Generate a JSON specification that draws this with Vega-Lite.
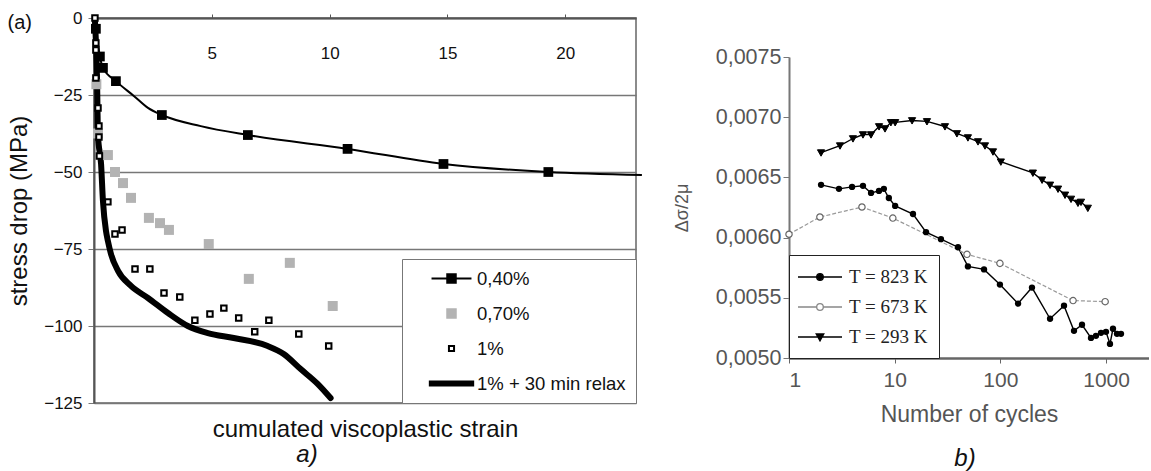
{
  "$schema": "https://vega.github.io/schema/vega-lite/v6.json",
  "background": "white",
  "padding": {"left": 6, "top": 8, "right": 0, "bottom": 0},
  "config": {"font": "Liberation Sans", "view": {"stroke": null}, "axis": {"grid": false}},
  "spacing": 26,
  "resolve": {"scale": {"shape": "independent", "color": "independent", "stroke": "independent"}, "legend": {"shape": "independent", "color": "independent", "stroke": "independent"}},
  "datasets": {
    "legA": [{"s": "0,40%"}, {"s": "0,70%"}, {"s": "1%"}, {"s": "1% + 30 min relax"}],
    "legB": [{"s": "T = 823 K"}, {"s": "T = 673 K"}, {"s": "T = 293 K"}],
    "s040": [
      {"x": 0.04, "y": -1, "m": 0},
      {"x": 0.08, "y": -3.5, "m": 1},
      {"x": 0.25, "y": -12.5, "m": 1},
      {"x": 0.38, "y": -16.2, "m": 1},
      {"x": 0.93, "y": -20.5, "m": 1},
      {"x": 1.69, "y": -25.3, "m": 0},
      {"x": 2.29, "y": -29.2, "m": 0},
      {"x": 2.88, "y": -31.5, "m": 1},
      {"x": 4.53, "y": -35.1, "m": 0},
      {"x": 6.53, "y": -38.0, "m": 1},
      {"x": 10.76, "y": -42.5, "m": 1},
      {"x": 14.83, "y": -47.4, "m": 1},
      {"x": 19.28, "y": -50.0, "m": 1},
      {"x": 23.25, "y": -51.0, "m": 0}
    ],
    "s070": [
      {"x": 0.1, "y": -21.5}, {"x": 0.17, "y": -37.5},
      {"x": 0.59, "y": -44.5}, {"x": 0.89, "y": -50}, {"x": 1.23, "y": -53.6},
      {"x": 1.57, "y": -58.4}, {"x": 2.33, "y": -64.9}, {"x": 2.8, "y": -66.6},
      {"x": 3.18, "y": -68.8}, {"x": 4.87, "y": -73.4}, {"x": 6.57, "y": -84.7},
      {"x": 8.31, "y": -79.5}, {"x": 10.13, "y": -93.5}
    ],
    "s1": [
      {"x": 0.04, "y": 0}, {"x": 0.08, "y": -8.1}, {"x": 0.08, "y": -10.4},
      {"x": 0.08, "y": -19.5}, {"x": 0.17, "y": -29.2}, {"x": 0.21, "y": -35.1},
      {"x": 0.21, "y": -38.6}, {"x": 0.23, "y": -44.8}, {"x": 0.59, "y": -59.7},
      {"x": 0.89, "y": -70.1}, {"x": 1.19, "y": -68.8}, {"x": 1.74, "y": -81.5},
      {"x": 2.37, "y": -81.5}, {"x": 2.97, "y": -89.3}, {"x": 3.64, "y": -90.6},
      {"x": 4.28, "y": -98.1}, {"x": 4.92, "y": -96.1}, {"x": 5.51, "y": -94.2},
      {"x": 6.14, "y": -97.4}, {"x": 6.82, "y": -101.9}, {"x": 7.42, "y": -98.1},
      {"x": 8.69, "y": -102.6}, {"x": 9.96, "y": -106.5}
    ],
    "relax": [
      {"x": 0.04, "y": -1}, {"x": 0.13, "y": -20.5}, {"x": 0.17, "y": -38.3},
      {"x": 0.3, "y": -47.4}, {"x": 0.38, "y": -59.4}, {"x": 0.51, "y": -69.2},
      {"x": 0.59, "y": -72.4}, {"x": 0.72, "y": -76.6}, {"x": 1.02, "y": -82.1},
      {"x": 1.57, "y": -87.0}, {"x": 2.29, "y": -90.9}, {"x": 3.14, "y": -95.8},
      {"x": 3.98, "y": -100}, {"x": 4.83, "y": -102.3}, {"x": 5.93, "y": -103.9},
      {"x": 7.37, "y": -106.5}, {"x": 8.05, "y": -109.1}, {"x": 8.77, "y": -114.0},
      {"x": 9.49, "y": -118.8}, {"x": 10.04, "y": -123.4}
    ],
    "t293": [
      {"n": 2.01, "v": 0.006706}, {"n": 3.04, "v": 0.006764}, {"n": 4.03, "v": 0.006823},
      {"n": 5.01, "v": 0.006856}, {"n": 5.97, "v": 0.006856}, {"n": 7.11, "v": 0.006923},
      {"n": 8.1, "v": 0.006906}, {"n": 9.2, "v": 0.006957}, {"n": 10.1, "v": 0.006957},
      {"n": 14.6, "v": 0.006973}, {"n": 20.2, "v": 0.006965}, {"n": 29.9, "v": 0.006923},
      {"n": 38.8, "v": 0.006865}, {"n": 49.3, "v": 0.006831}, {"n": 61.4, "v": 0.006798},
      {"n": 71.5, "v": 0.006764}, {"n": 85.1, "v": 0.006714}, {"n": 101, "v": 0.00663},
      {"n": 203, "v": 0.006538}, {"n": 248, "v": 0.00648}, {"n": 295, "v": 0.006438},
      {"n": 351, "v": 0.006405}, {"n": 409, "v": 0.006355}, {"n": 466, "v": 0.006321},
      {"n": 542, "v": 0.006288}, {"n": 579, "v": 0.006296}, {"n": 672, "v": 0.006246}
    ],
    "t823": [
      {"n": 2.01, "v": 0.006438}, {"n": 2.97, "v": 0.006405}, {"n": 3.95, "v": 0.006421},
      {"n": 5.01, "v": 0.00643}, {"n": 5.97, "v": 0.006371}, {"n": 7.1, "v": 0.006388},
      {"n": 7.9, "v": 0.006405}, {"n": 8.8, "v": 0.006329}, {"n": 10.1, "v": 0.006263},
      {"n": 14.9, "v": 0.006196}, {"n": 19.8, "v": 0.006045}, {"n": 27.4, "v": 0.005987},
      {"n": 39.7, "v": 0.00592}, {"n": 49.3, "v": 0.005761}, {"n": 70, "v": 0.005736},
      {"n": 99, "v": 0.00561}, {"n": 147, "v": 0.005452}, {"n": 199, "v": 0.005585},
      {"n": 295, "v": 0.005326}, {"n": 400, "v": 0.005435}, {"n": 497, "v": 0.005226},
      {"n": 592, "v": 0.005276}, {"n": 720, "v": 0.005167}, {"n": 802, "v": 0.005184},
      {"n": 895, "v": 0.005209}, {"n": 998, "v": 0.005217}, {"n": 1089, "v": 0.005117},
      {"n": 1162, "v": 0.005243}, {"n": 1268, "v": 0.005201}, {"n": 1384, "v": 0.005201}
    ],
    "t673": [
      {"n": 1.0, "v": 0.006028}, {"n": 1.96, "v": 0.006171}, {"n": 4.9, "v": 0.006254},
      {"n": 9.6, "v": 0.006162}, {"n": 48.3, "v": 0.005861}, {"n": 99, "v": 0.005786},
      {"n": 487, "v": 0.005477}, {"n": 980, "v": 0.005468}
    ]
  },
  "hconcat": [
    {
      "width": 542,
      "height": 385,
      "view": {"stroke": "#666", "strokeWidth": 1.5},
      "title": {"text": "a)", "orient": "bottom", "fontStyle": "italic", "fontWeight": "normal", "fontSize": 24, "dx": -58, "offset": 2, "color": "#111"},
      "resolve": {"axis": {"x": "independent", "y": "independent"}},
      "layer": [
        {
          "data": {"name": "s040"},
          "mark": {"type": "line", "color": "black", "strokeWidth": 2, "interpolate": "monotone", "clip": false},
          "encoding": {
            "x": {"field": "x", "type": "quantitative",
              "scale": {"domain": [0, 23], "nice": false, "zero": false},
              "axis": {"orient": "top", "values": [5, 10, 15, 20], "grid": false, "domainColor": "#555", "domainWidth": 2,
                "tickColor": "#555", "tickSize": 4, "labelBaseline": "middle", "labelPadding": -39, "labelFontSize": 17,
                "labelColor": "#111", "title": "(a)", "titleX": -87, "titleY": 4, "titleAngle": 0, "titleAlign": "left",
                "titleBaseline": "middle", "titleFontSize": 20, "titleFontWeight": "normal", "titleColor": "#111"}},
            "y": {"field": "y", "type": "quantitative",
              "scale": {"domain": [-125, 0], "nice": false},
              "axis": {"values": [0, -25, -50, -75, -100, -125], "grid": true, "gridColor": "#777", "gridWidth": 1.5,
                "domainColor": "#555", "domainWidth": 2, "tickColor": "#777", "tickSize": 6, "labelPadding": 6,
                "labelFontSize": 17, "labelColor": "#111", "title": "stress drop (MPa)", "titleFontSize": 24,
                "titleFontWeight": "normal", "titleColor": "#111", "titlePadding": 12}}
          }
        },
        {
          "data": {"name": "s040"},
          "transform": [{"filter": "datum.m == 1"}],
          "mark": {"type": "point", "shape": "square", "filled": true, "color": "black", "size": 95, "opacity": 1},
          "encoding": {
            "x": {"field": "x", "type": "quantitative", "axis": null},
            "y": {"field": "y", "type": "quantitative", "axis": null}
          }
        },
        {
          "data": {"name": "relax"},
          "mark": {"type": "line", "color": "black", "strokeWidth": 6, "interpolate": "monotone", "strokeCap": "round"},
          "encoding": {
            "x": {"field": "x", "type": "quantitative",
              "axis": {"orient": "bottom", "labels": false, "ticks": false, "domain": false, "grid": false,
                "title": "cumulated viscoplastic strain", "titleFontSize": 24, "titleFontWeight": "normal",
                "titleColor": "#111", "titlePadding": 14}},
            "y": {"field": "y", "type": "quantitative", "axis": null}
          }
        },
        {
          "data": {"name": "s070"},
          "mark": {"type": "point", "shape": "square", "filled": true, "color": "#b3b3b3", "size": 100, "opacity": 1},
          "encoding": {
            "x": {"field": "x", "type": "quantitative", "axis": null},
            "y": {"field": "y", "type": "quantitative", "axis": null}
          }
        },
        {
          "data": {"name": "s1"},
          "mark": {"type": "point", "shape": "square", "filled": true, "fill": "white", "stroke": "black", "strokeWidth": 2, "size": 30, "opacity": 1},
          "encoding": {
            "x": {"field": "x", "type": "quantitative", "axis": null},
            "y": {"field": "y", "type": "quantitative", "axis": null}
          }
        },
        {
          "data": {"name": "legA"},
          "mark": {"type": "point", "filled": true, "strokeWidth": 2, "size": 289, "opacity": 0},
          "encoding": {
            "color": {"field": "s", "type": "nominal",
              "scale": {"domain": ["0,40%", "0,70%", "1%", "1% + 30 min relax"], "range": ["black", "#b3b3b3", "white", "black"]},
              "legend": {"title": null, "orient": "bottom-right", "offset": 0, "padding": 10, "strokeColor": "#777",
                "fillColor": "white", "symbolSize": 289, "symbolOffset": 30, "labelOffset": 16, "rowPadding": 16,
                "labelFontSize": 18.5, "labelColor": "#111", "labelLimit": 300,
                "symbolStrokeWidth": 2, "symbolOpacity": 1, "symbolFillColor": "black", "symbolStrokeColor": "black"}},
            "stroke": {"field": "s", "type": "nominal",
              "scale": {"domain": ["0,40%", "0,70%", "1%", "1% + 30 min relax"], "range": ["black", "#b3b3b3", "black", "black"]},
              "legend": {"title": null, "orient": "bottom-right", "offset": 0, "padding": 10, "strokeColor": "#777",
                "fillColor": "white", "symbolSize": 289, "symbolOffset": 30, "labelOffset": 16, "rowPadding": 16,
                "labelFontSize": 18.5, "labelColor": "#111", "labelLimit": 300,
                "symbolStrokeWidth": 2, "symbolOpacity": 1, "symbolFillColor": "black", "symbolStrokeColor": "black"}},
            "shape": {"field": "s", "type": "nominal",
              "scale": {"domain": ["0,40%", "0,70%", "1%", "1% + 30 min relax"],
                "range": ["M-2.35,0H2.35M-0.5,-0.5H0.5V0.5H-0.5Z", "M-0.5,-0.5H0.5V0.5H-0.5Z", "M-0.3,-0.3H0.3V0.3H-0.3Z", "M-2.55,-0.24H2.55V0.24H-2.55Z"]},
              "legend": {"title": null, "orient": "bottom-right", "offset": 0, "padding": 10, "strokeColor": "#777",
                "fillColor": "white", "symbolSize": 289, "symbolOffset": 30, "labelOffset": 16, "rowPadding": 16,
                "labelFontSize": 18.5, "labelColor": "#111", "labelLimit": 300,
                "symbolStrokeWidth": 2, "symbolOpacity": 1, "symbolFillColor": "black", "symbolStrokeColor": "black"}}
          }
        }
      ]
    },
    {
      "width": 360,
      "height": 340,
      "view": {"stroke": null},
      "title": {"text": "b)", "orient": "bottom", "fontStyle": "italic", "fontWeight": "normal", "fontSize": 24, "dx": -4, "offset": 21, "color": "#111"},
      "layer": [
        {
          "data": {"name": "t823"},
          "mark": {"type": "line", "color": "black", "strokeWidth": 1.4},
          "encoding": {
            "x": {"field": "n", "type": "quantitative",
              "scale": {"type": "log", "domain": [1, 2547], "nice": false},
              "axis": {"values": [1, 10, 100, 1000], "format": "d", "labelFontSize": 21, "labelColor": "#555",
                "domainColor": "#666", "domainWidth": 2.5, "tickColor": "#666", "tickSize": 5, "labelPadding": 6,
                "title": "Number of cycles", "titleFontSize": 23, "titleColor": "#555", "titleFontWeight": "normal",
                "titlePadding": 13, "grid": false}},
            "y": {"field": "v", "type": "quantitative",
              "scale": {"domain": [0.005, 0.0075], "range": [340, 39], "nice": false, "zero": false},
              "axis": {"values": [0.005, 0.0055, 0.006, 0.0065, 0.007, 0.0075],
                "labelExpr": "replace(format(datum.value, '.4f'), '.', ',')", "labelFontSize": 21.5, "labelColor": "#555",
                "domainColor": "#777", "domainWidth": 2, "tickColor": "#777", "tickSize": 6, "labelPadding": 2,
                "title": "Δσ/2μ", "titleFontSize": 18, "titleColor": "#555", "titleFontWeight": "normal",
                "titlePadding": 24, "grid": false}}
          }
        },
        {
          "data": {"name": "t673"},
          "mark": {"type": "line", "color": "#999", "strokeWidth": 1.2, "strokeDash": [4, 2]},
          "encoding": {
            "x": {"field": "n", "type": "quantitative"},
            "y": {"field": "v", "type": "quantitative"}
          }
        },
        {
          "data": {"name": "t293"},
          "mark": {"type": "line", "color": "black", "strokeWidth": 1.4},
          "encoding": {
            "x": {"field": "n", "type": "quantitative"},
            "y": {"field": "v", "type": "quantitative"}
          }
        },
        {
          "data": {"name": "t823"},
          "mark": {"type": "point", "shape": "circle", "filled": true, "color": "black", "size": 40, "opacity": 1},
          "encoding": {
            "x": {"field": "n", "type": "quantitative"},
            "y": {"field": "v", "type": "quantitative"}
          }
        },
        {
          "data": {"name": "t673"},
          "mark": {"type": "point", "shape": "circle", "filled": true, "fill": "white", "stroke": "#666", "strokeWidth": 1.2, "size": 40, "opacity": 1},
          "encoding": {
            "x": {"field": "n", "type": "quantitative"},
            "y": {"field": "v", "type": "quantitative"}
          }
        },
        {
          "data": {"name": "t293"},
          "mark": {"type": "point", "shape": "M-0.36,-0.28L0.36,-0.28L0,0.36Z", "filled": true, "fill": "black", "stroke": "black", "strokeWidth": 1, "size": 400, "opacity": 1},
          "encoding": {
            "x": {"field": "n", "type": "quantitative"},
            "y": {"field": "v", "type": "quantitative"}
          }
        },
        {
          "data": {"name": "legB"},
          "mark": {"type": "point", "filled": true, "strokeWidth": 1.3, "size": 400, "opacity": 0},
          "encoding": {
            "color": {"field": "s", "type": "nominal",
              "scale": {"domain": ["T = 823 K", "T = 673 K", "T = 293 K"], "range": ["black", "white", "black"]},
              "legend": {"title": null, "orient": "bottom-left", "offset": 0, "padding": 11, "strokeColor": "#222",
                "fillColor": "white", "symbolSize": 400, "symbolOffset": 9, "labelOffset": 18, "rowPadding": 9,
                "labelFont": "Liberation Serif", "labelFontSize": 19, "labelColor": "#222", "symbolStrokeWidth": 1.3,
                "symbolOpacity": 1, "symbolFillColor": "black", "symbolStrokeColor": "black"}},
            "stroke": {"field": "s", "type": "nominal",
              "scale": {"domain": ["T = 823 K", "T = 673 K", "T = 293 K"], "range": ["black", "#888", "black"]},
              "legend": {"title": null, "orient": "bottom-left", "offset": 0, "padding": 11, "strokeColor": "#222",
                "fillColor": "white", "symbolSize": 400, "symbolOffset": 9, "labelOffset": 18, "rowPadding": 9,
                "labelFont": "Liberation Serif", "labelFontSize": 19, "labelColor": "#222", "symbolStrokeWidth": 1.3,
                "symbolOpacity": 1, "symbolFillColor": "black", "symbolStrokeColor": "black"}},
            "shape": {"field": "s", "type": "nominal",
              "scale": {"domain": ["T = 823 K", "T = 673 K", "T = 293 K"],
                "range": ["M-2.2,0H2.2M-0.33,0A0.33,0.33 0 1,0 0.33,0A0.33,0.33 0 1,0 -0.33,0Z", "M-2.2,0H-0.33M0.33,0H2.2M-0.33,0A0.33,0.33 0 1,0 0.33,0A0.33,0.33 0 1,0 -0.33,0Z", "M-2.2,0H2.2M-0.38,-0.3L0.38,-0.3L0,0.38Z"]},
              "legend": {"title": null, "orient": "bottom-left", "offset": 0, "padding": 11, "strokeColor": "#222",
                "fillColor": "white", "symbolSize": 400, "symbolOffset": 9, "labelOffset": 18, "rowPadding": 9,
                "labelFont": "Liberation Serif", "labelFontSize": 19, "labelColor": "#222", "symbolStrokeWidth": 1.3,
                "symbolOpacity": 1, "symbolFillColor": "black", "symbolStrokeColor": "black"}}
          }
        }
      ]
    }
  ]
}
